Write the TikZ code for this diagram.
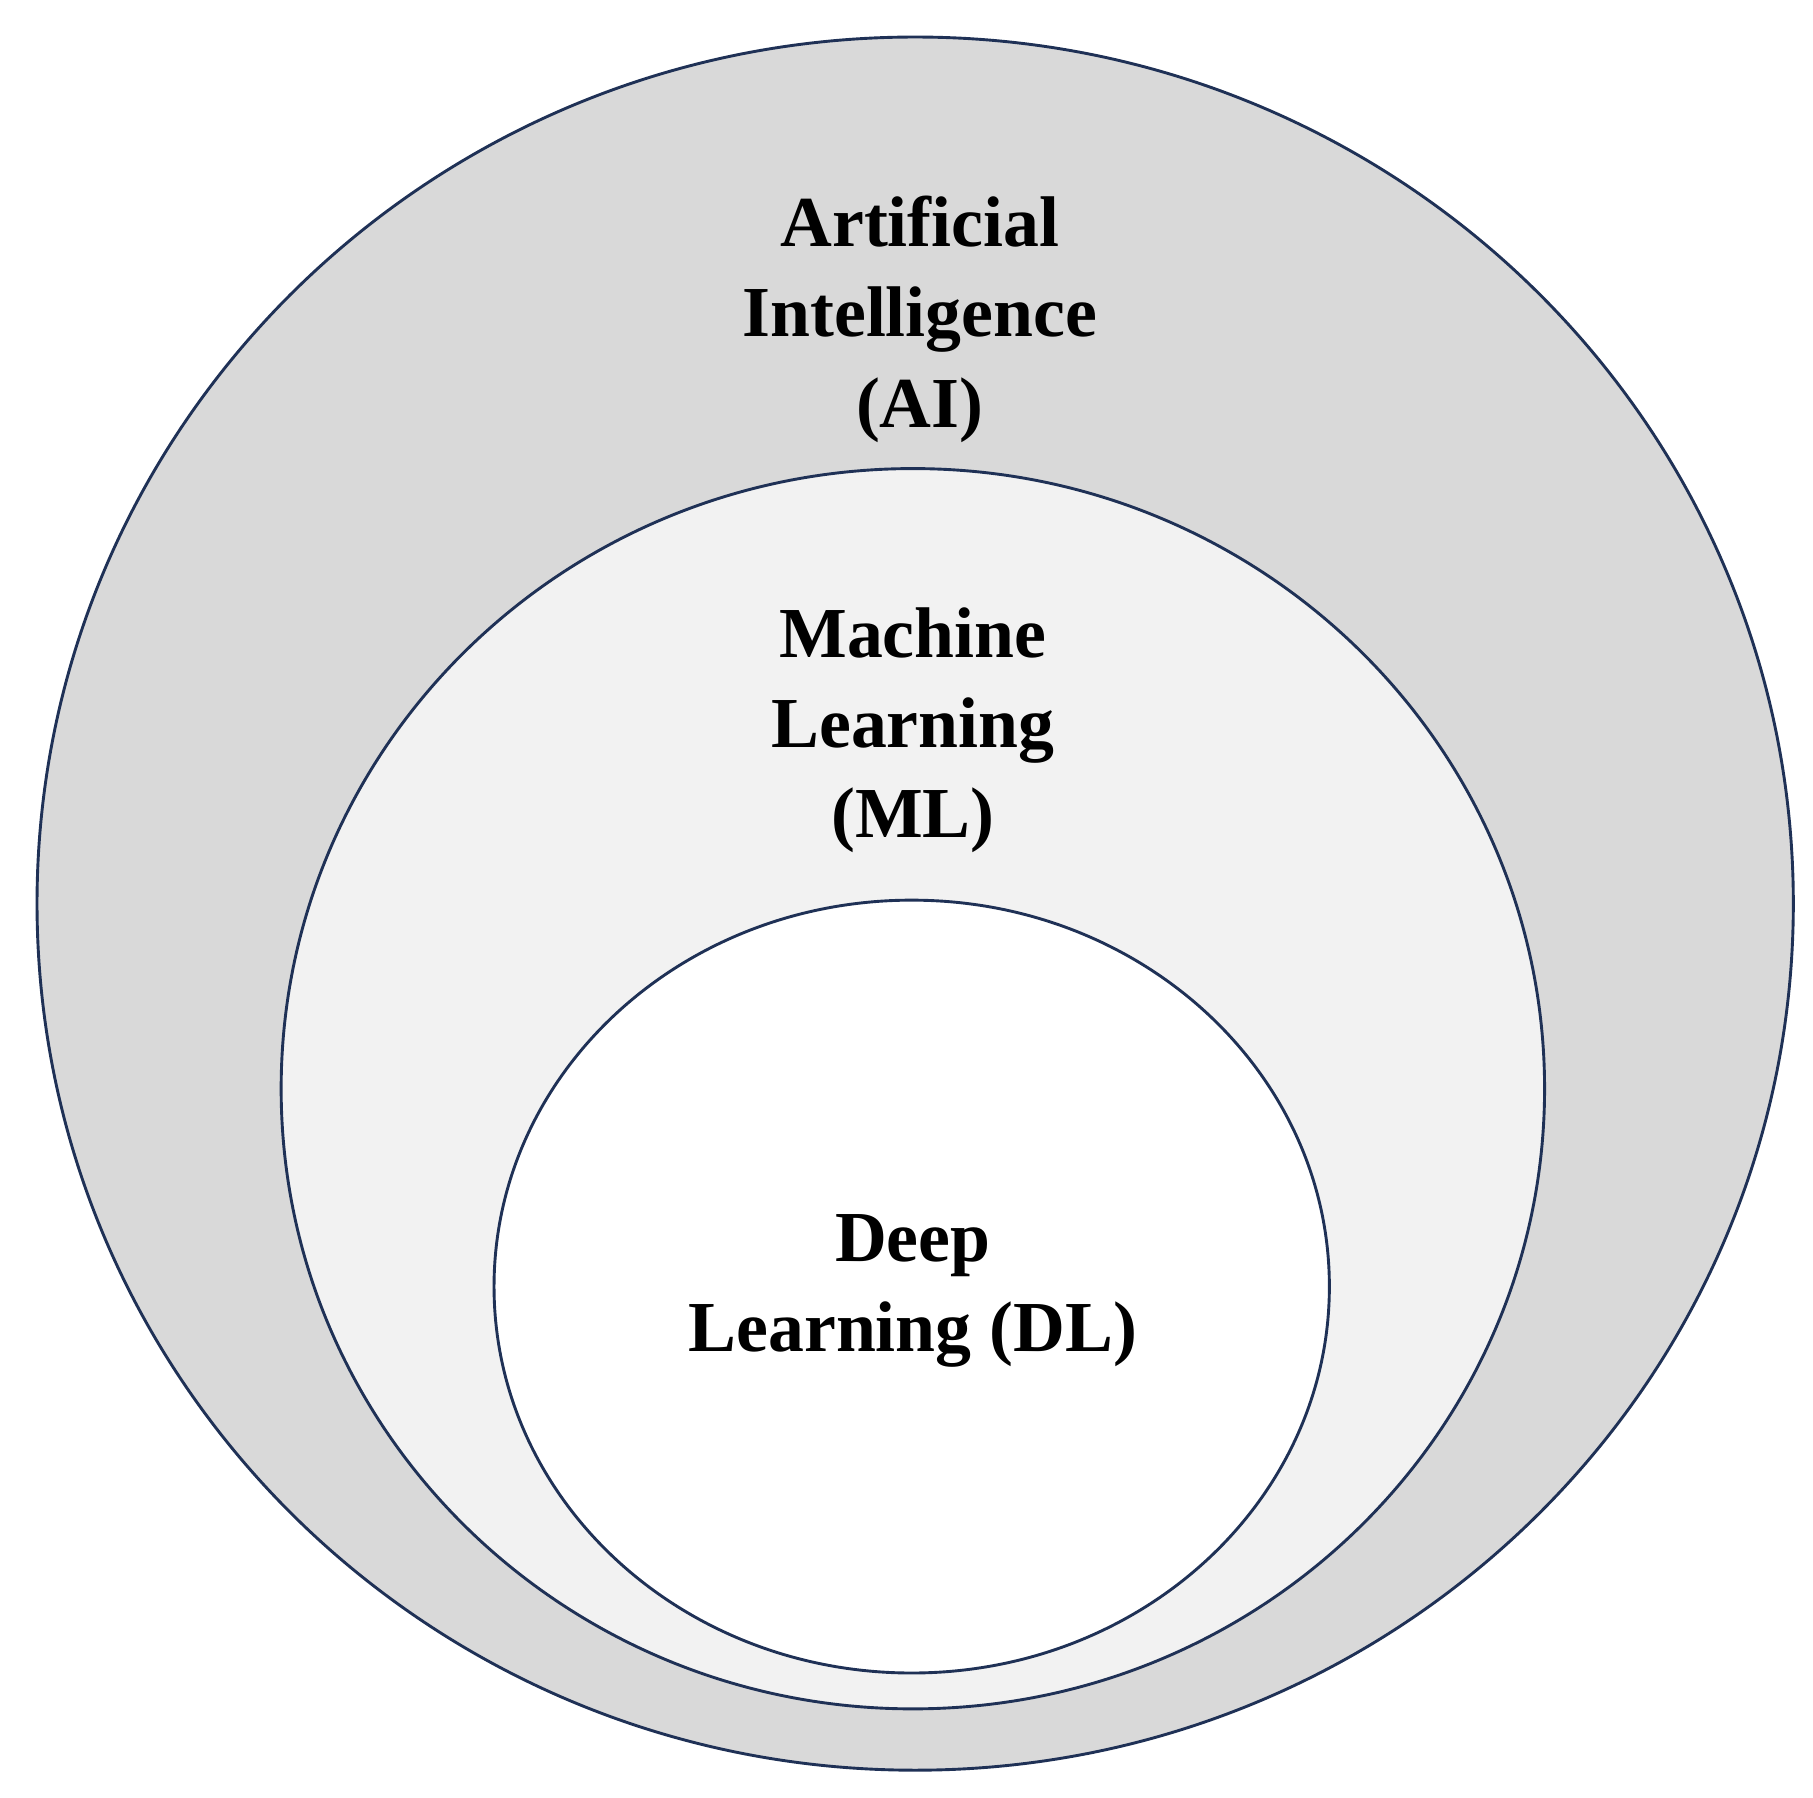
\documentclass[tikz,border=0pt]{standalone}
\usepackage{fontspec}
\setmainfont{Liberation Serif}
\begin{document}
\begin{tikzpicture}[x=1pt,y=-1pt,
  ring/.style={draw=navy,line width=2.5pt},
  lbl/.style={font=\bfseries\fontsize{62}{78}\selectfont,align=center,text=black}]
\definecolor{navy}{HTML}{1F3156}
\useasboundingbox (0,0) rectangle (1567,1554);
\fill[white] (0,0) rectangle (1567,1554);
\path[ring,fill={rgb,255:red,217;green,217;blue,217}] (791,781) ellipse [x radius=759,y radius=749];
\path[ring,fill={rgb,255:red,242;green,242;blue,242}] (789,941) ellipse [x radius=546,y radius=536];
\path[ring,fill=white] (788,1112) ellipse [x radius=361,y radius=334];
\node[lbl] (ai) at (795,276) {Artificial\\Intelligence\\(AI)};
\node[lbl] (ml) at (789,631) {Machine\\Learning\\(ML)};
\node[lbl] (dl) at (789,1116) {Deep\\Learning (DL)};
\end{tikzpicture}
\end{document}
